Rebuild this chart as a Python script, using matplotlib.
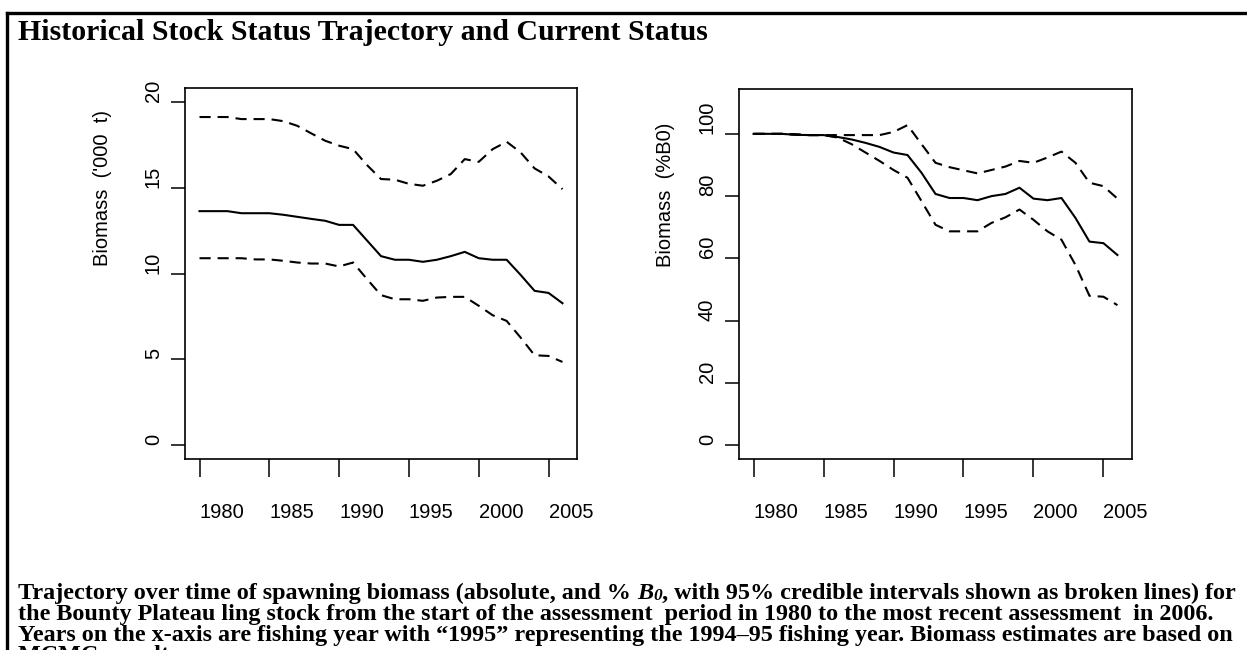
import matplotlib
matplotlib.use("Agg")
import matplotlib.pyplot as plt
from matplotlib.lines import Line2D
import numpy as np

W, H = 1247, 650

years = np.arange(1980, 2007)

# absolute biomass ('000 t)
abs_median = [13.63, 13.63, 13.63, 13.51, 13.51, 13.51, 13.42, 13.30, 13.18, 13.07,
              12.83, 12.83, 11.92, 11.01, 10.80, 10.80, 10.68, 10.80, 11.01, 11.26,
              10.89, 10.80, 10.80, 9.92, 8.99, 8.87, 8.27]
abs_upper = [19.11, 19.11, 19.11, 18.99, 18.99, 18.99, 18.87, 18.60, 18.16, 17.73,
             17.44, 17.24, 16.31, 15.50, 15.46, 15.22, 15.11, 15.40, 15.79, 16.66,
             16.50, 17.24, 17.67, 17.05, 16.12, 15.65, 14.91]
abs_lower = [10.89, 10.89, 10.89, 10.89, 10.82, 10.82, 10.74, 10.64, 10.58, 10.58,
             10.41, 10.64, 9.67, 8.74, 8.50, 8.50, 8.41, 8.60, 8.64, 8.64,
             8.12, 7.57, 7.24, 6.27, 5.24, 5.20, 4.85]

# biomass as %B0
pct_median = [100.0, 100.0, 100.0, 99.7, 99.6, 99.6, 99.0, 98.2, 97.1, 95.8,
              94.0, 93.2, 87.5, 80.7, 79.4, 79.4, 78.7, 80.0, 80.7, 82.7,
              79.2, 78.7, 79.4, 73.0, 65.4, 64.9, 61.1]
pct_upper = [100.0, 100.0, 100.0, 99.9, 99.6, 99.6, 99.6, 99.6, 99.6, 99.6,
             100.6, 102.8, 96.7, 90.7, 89.3, 88.3, 87.3, 88.4, 89.5, 91.3,
             90.7, 92.4, 94.3, 90.7, 84.3, 83.2, 79.2]
pct_lower = [100.0, 100.0, 100.0, 99.7, 99.6, 99.6, 98.8, 96.7, 94.0, 91.3,
             88.4, 85.9, 78.4, 70.8, 68.7, 68.7, 68.7, 71.4, 73.2, 75.7,
             72.4, 68.7, 66.0, 57.9, 48.0, 47.7, 45.0]

xticks = [1980, 1985, 1990, 1995, 2000, 2005]
abs_yticks = [0, 5, 10, 15, 20]
pct_yticks = [0, 20, 40, 60, 80, 100]

title = "Historical Stock Status Trajectory and Current Status"
# first caption line is split round the italic B0
cap1_a = "Trajectory over time of spawning biomass (absolute, and %"
cap1_b = "B"
cap1_c = "0"
cap1_d = ", with 95% credible intervals shown as broken lines) for"
caption_rest = [
    "the Bounty Plateau ling stock from the start of the assessment  period in 1980 to the most recent assessment  in 2006.",
    "Years on the x-axis are fishing year with \u201c1995\u201d representing the 1994\u201395 fishing year. Biomass estimates are based on",
    "MCMC  results.",
]
cap_base = [599, 620, 641, 661]   # baselines, px from top

plt.rcParams["font.family"] = "Liberation Sans"
plt.rcParams["lines.scale_dashes"] = False

fig = plt.figure(figsize=(W / 100, H / 100), dpi=100)
r = fig.canvas.get_renderer()


def ax_at(x0, y0, x1, y1):
    return fig.add_axes([x0 / W, 1 - y1 / H, (x1 - x0) / W, (y1 - y0) / H])


def panel(ax, med, up, lo, yticks, ylim, ylabel, ylab_x):
    ax.plot(years, med, color="black", lw=1.5)
    for s in (up, lo):
        ax.plot(years, s, color="black", lw=1.5, dashes=(8, 5))
    ax.set_xlim(1978.96, 2007.04)
    ax.set_ylim(*ylim)
    ax.set_xticks(xticks)
    ax.set_yticks(yticks)
    for sp in ax.spines.values():
        sp.set_linewidth(1.2)
    ax.tick_params(axis="x", direction="out", length=13, width=1.1, labelsize=14.5, pad=19)
    ax.tick_params(axis="y", direction="out", length=10, width=1.1, labelsize=14.5, pad=6)
    # R output here puts every label starting at its anchor
    for lab in ax.get_xticklabels():
        lab.set_ha("left")
    for lab in ax.get_yticklabels():
        lab.set_rotation(90)
        lab.set_rotation_mode("anchor")
        lab.set_ha("left")
        lab.set_va("bottom")
    ax.set_ylabel(ylabel, fontsize=14.5)
    ax.yaxis.set_label_coords(ylab_x, 0.52)
    lbl = ax.yaxis.label
    lbl.set_rotation_mode("anchor")
    lbl.set_ha("left")
    lbl.set_va("center")


ax1 = ax_at(185, 88, 577, 459)
panel(ax1, abs_median, abs_upper, abs_lower, abs_yticks, (-0.8, 20.8),
      "Biomass  ('000  t)", (102 - 185) / 392)

ax2 = ax_at(739, 89, 1132, 459)
panel(ax2, pct_median, pct_upper, pct_lower, pct_yticks, (-4.4, 114.4),
      "Biomass  (%B0)", (666 - 739) / 393)

# page frame (top and left edges only)
fig.add_artist(Line2D([7 / W, 1], [1 - 13 / H, 1 - 13 / H], transform=fig.transFigure,
                      color="black", lw=2.4))
fig.add_artist(Line2D([7 / W, 7 / W], [0, 1 - 13 / H], transform=fig.transFigure,
                      color="black", lw=2.4))

serif = dict(family="Liberation Serif", weight="bold")
t_title = fig.text(18 / W, 1 - 32 / H, title, ha="left", va="center", fontsize=16, **serif)
w = t_title.get_window_extent(r).width
t_title.set_fontsize(16 * 692 / w)

# caption size: fit the third line to its width in the original
probe = fig.text(0, 0, caption_rest[1], fontsize=16, **serif)
cap_fs = 16 * 1220 / probe.get_window_extent(r).width
probe.remove()

for line, y in zip(caption_rest, cap_base[1:]):
    fig.text(18 / W, 1 - y / H, line, ha="left", va="baseline", fontsize=cap_fs, **serif)


def width(t):
    return t.get_window_extent(r).width


sp_a = fig.text(0, 0, "a a", fontsize=cap_fs, **serif)
sp_b = fig.text(0, 0, "aa", fontsize=cap_fs, **serif)
space = width(sp_a) - width(sp_b)
sp_a.remove()
sp_b.remove()

y1 = 1 - cap_base[0] / H
ta = fig.text(18 / W, y1, cap1_a, ha="left", va="baseline", fontsize=cap_fs, **serif)
x = 18 + width(ta) + space
tb = fig.text(x / W, y1, cap1_b, ha="left", va="baseline", fontsize=cap_fs,
              style="italic", **serif)
x += width(tb)
tc = fig.text(x / W, y1 - 1 / H, cap1_c, ha="left", va="baseline", fontsize=cap_fs * 0.72,
              style="italic", **serif)
x += width(tc)
fig.text(x / W, y1, cap1_d, ha="left", va="baseline", fontsize=cap_fs, **serif)

fig.savefig("out.png", dpi=100)
